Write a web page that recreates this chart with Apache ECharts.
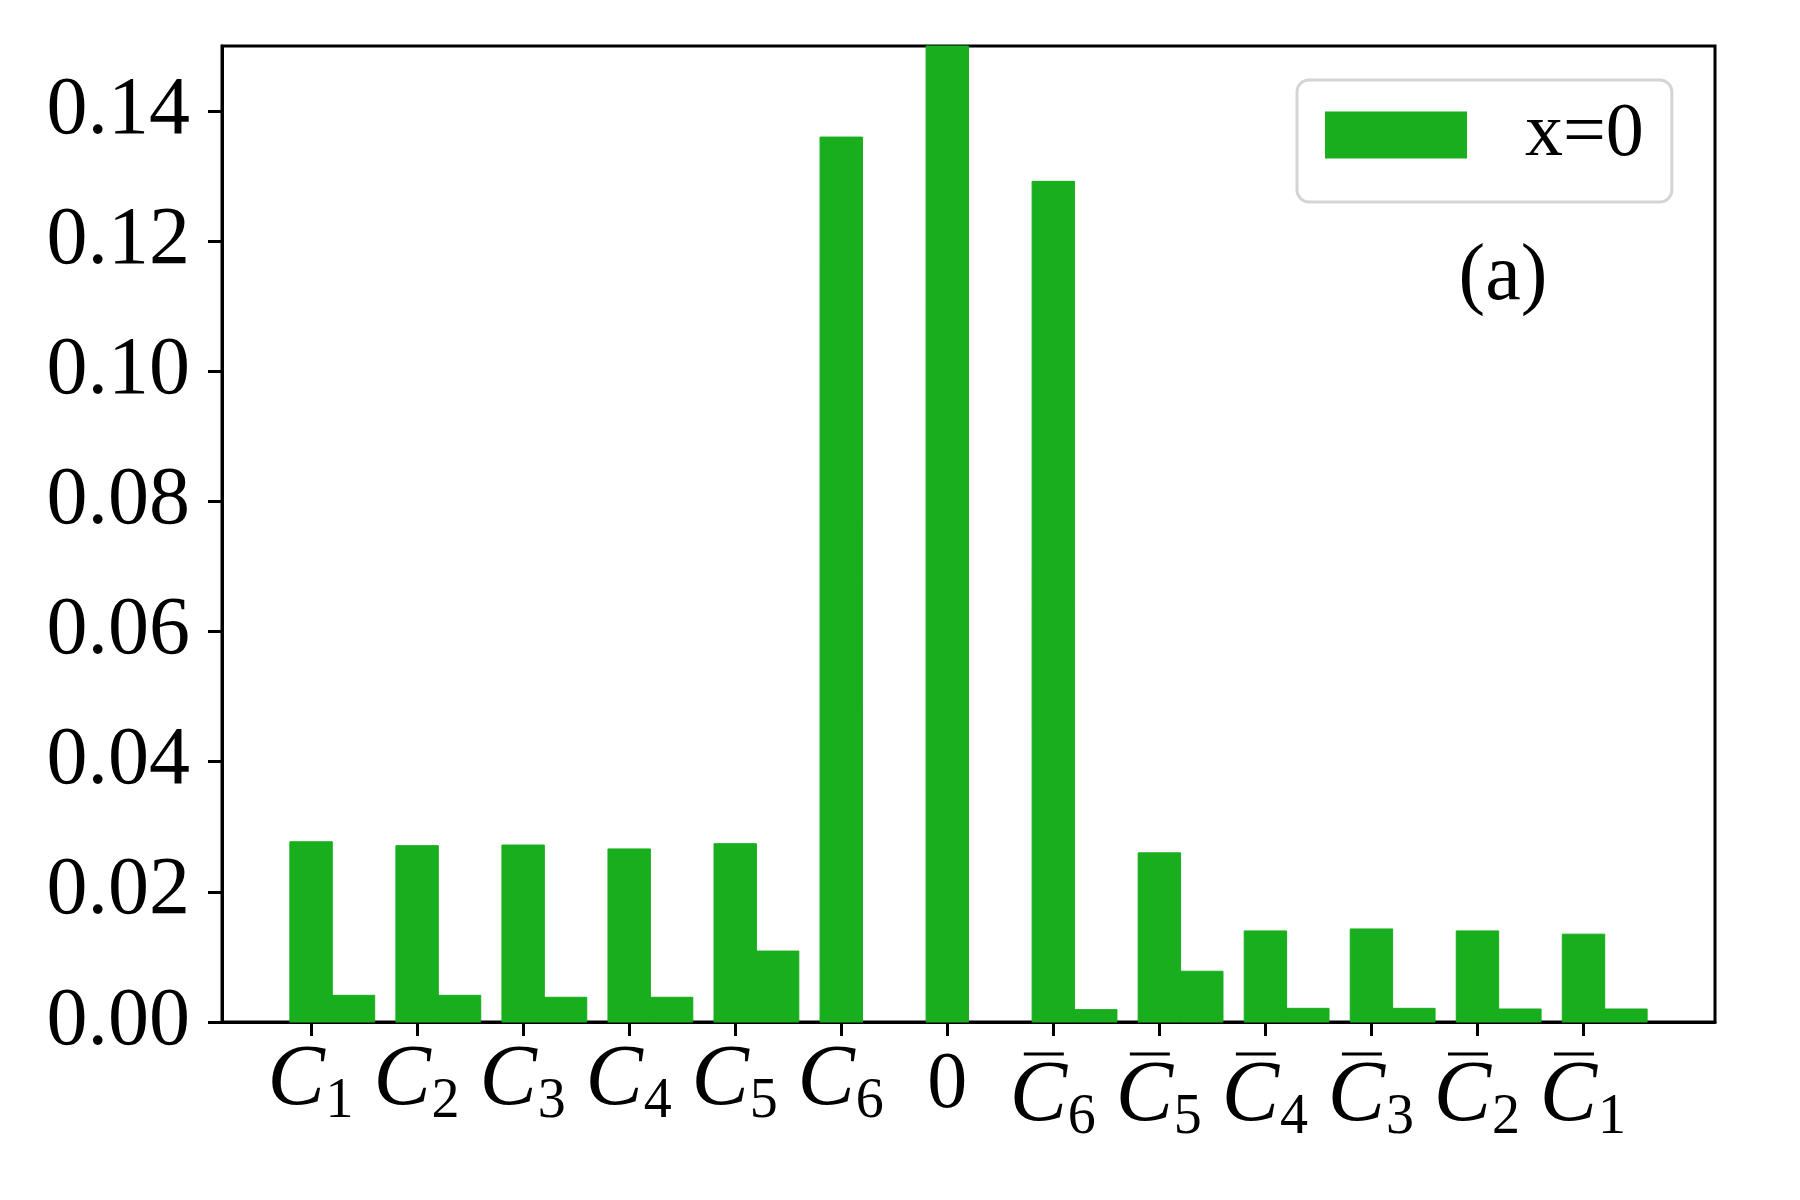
<!DOCTYPE html>
<html><head><meta charset="utf-8">
<script src="https://cdn.jsdelivr.net/npm/echarts@6/dist/echarts.min.js"></script>
<style>html,body{margin:0;padding:0;background:#fff}#c{width:1800px;height:1200px}</style>
</head><body><div id="c"></div>
<script>
// ---- data ----
const categories = ['C_1','C_2','C_3','C_4','C_5','C_6','0','Cbar_6','Cbar_5','Cbar_4','Cbar_3','Cbar_2','Cbar_1'];
const seriesMain = [0.0277, 0.0271, 0.0272, 0.0266, 0.0274, 0.1360, 0.155, 0.1292, 0.0260, 0.0140, 0.0143, 0.0140, 0.0135];
const seriesSecond = [0.0041, 0.0041, 0.0038, 0.0038, 0.0109, 0, 0, 0.0019, 0.0078, 0.0021, 0.0021, 0.0020, 0.0020];
const yTicks = [0, 0.02, 0.04, 0.06, 0.08, 0.10, 0.12, 0.14];
const yTickLabels = ['0.00', '0.02', '0.04', '0.06', '0.08', '0.10', '0.12', '0.14'];
const legendLabel = 'x=0';
const panelLabel = '(a)';

// ---- chart ----
const FONT = "'Liberation Serif', 'DejaVu Serif', serif";
const GREEN = '#18ae1e';
const BAR_W = 0.4;
const positions = categories.map((_, i) => i);

function barItem(offset) {
  return function (params, api) {
    const x = api.value(0) + offset;
    const v = api.value(1);
    if (!v) return null;
    const p0 = api.coord([x - BAR_W / 2, v]);
    const p1 = api.coord([x + BAR_W / 2, 0]);
    const r = { x: p0[0], y: p0[1], width: p1[0] - p0[0], height: p1[1] - p0[1] };
    const cs = params.coordSys;
    const clipped = echarts.graphic.clipRectByRect(r, { x: cs.x, y: cs.y, width: cs.width, height: cs.height });
    if (!clipped) return null;
    return { type: 'rect', shape: clipped, style: { fill: GREEN, stroke: GREEN, lineWidth: 1 } };
  };
}

function xLabel(value) {
  const idx = Math.round(value);
  const c = categories[idx];
  if (c === undefined) return '';
  if (c === '0') return '{z|0}';
  const parts = c.split('_');
  const sub = parts[1];
  if (parts[0] === 'Cbar') {
    return '{bl| }{bar| }{gap| }\n{c|C}{s|' + sub + '}';
  }
  return '{c|C}{s|' + sub + '}';
}

const chart = echarts.init(document.getElementById('c'), null, { renderer: 'canvas' });
chart.setOption({
  backgroundColor: '#fff',
  animation: false,
  grid: {
    left: 222, right: 85, top: 46, bottom: 178,
    show: true, borderColor: '#000', borderWidth: 3,
    outerBoundsMode: 'none'
  },
  xAxis: {
    type: 'value', min: -0.84, max: 13.24,
    splitLine: { show: false },
    axisLine: { show: true, onZero: false, lineStyle: { color: '#000', width: 3 } },
    axisTick: { show: true, length: 14, lineStyle: { color: '#000', width: 3 }, customValues: positions },
    axisLabel: {
      customValues: positions,
      margin: 24,
      formatter: xLabel,
      color: '#000',
      rich: {
        c: { fontFamily: FONT, fontStyle: 'italic', fontSize: 86, lineHeight: 70, width: 57, color: '#000' },
        s: { fontFamily: FONT, fontSize: 56, lineHeight: 70, width: 30, padding: [43, 0, 0, 0], color: '#000' },
        z: { fontFamily: FONT, fontSize: 80, lineHeight: 80, color: '#000' },
        bl: { fontSize: 4, lineHeight: 16, width: 14 },
        bar: { fontSize: 4, lineHeight: 16, width: 40, height: 3, backgroundColor: '#000' },
        gap: { fontSize: 4, lineHeight: 16, width: 33 }
      }
    }
  },
  yAxis: {
    type: 'value', min: 0, max: 0.15,
    splitLine: { show: false },
    axisLine: { show: true, onZero: false, lineStyle: { color: '#000', width: 3 } },
    axisTick: { show: true, length: 14, lineStyle: { color: '#000', width: 3 }, customValues: yTicks },
    axisLabel: {
      customValues: yTicks,
      margin: 32,
      fontFamily: FONT, fontSize: 82, color: '#000',
      formatter: function (v) {
        const i = yTicks.findIndex(t => Math.abs(t - v) < 1e-9);
        return i >= 0 ? yTickLabels[i] : '';
      }
    }
  },
  legend: {
    data: [legendLabel],
    left: 1297, top: 80,
    icon: 'rect', itemWidth: 142, itemHeight: 47,
    padding: [17, 28, 29, 28],
    borderColor: '#d4d4d4', borderWidth: 3, borderRadius: 12,
    backgroundColor: '#fff',
    selectedMode: false,
    textStyle: { fontFamily: FONT, fontSize: 76, color: '#000', padding: [6, 0, 0, 53], lineHeight: 64 }
  },
  graphic: [{
    type: 'text', x: 1503, y: 278, z: 100,
    style: { text: panelLabel, font: '80px ' + FONT, fill: '#000', textAlign: 'center', textVerticalAlign: 'middle' }
  }],
  series: [
    {
      name: legendLabel, type: 'custom', renderItem: barItem(0),
      itemStyle: { color: GREEN },
      encode: { x: 0, y: 1 },
      data: positions.map((p, i) => [p, seriesMain[i]])
    },
    {
      name: '_second', type: 'custom', renderItem: barItem(BAR_W),
      itemStyle: { color: GREEN },
      encode: { x: 0, y: 1 },
      data: positions.map((p, i) => [p, seriesSecond[i]])
    }
  ]
});
</script>
</body></html>
